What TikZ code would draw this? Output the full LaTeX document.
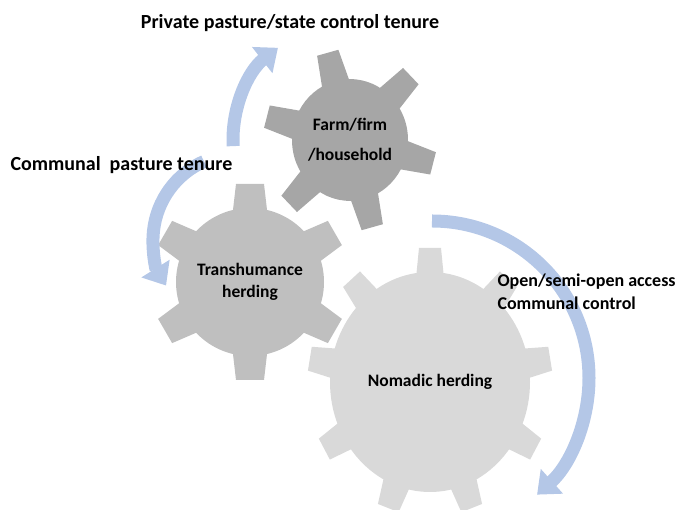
\documentclass[tikz,border=0pt]{standalone}
\usepackage{fontspec}
\setmainfont{Carlito}
\usetikzlibrary{arrows.meta,calc}
\definecolor{ashgray}{RGB}{166,166,166}
\definecolor{silvergray}{RGB}{191,191,191}
\definecolor{cloudgray}{RGB}{217,217,217}
\definecolor{bluegray}{RGB}{180,199,231}

\begin{document}
\begin{tikzpicture}[x=1pt, y=1pt,
    tenurearrow/.style={bluegray, line width=13pt, -{Triangle[width=32pt,length=20pt]}},
    geartext/.style={font=\bfseries\fontsize{17.5}{22}\selectfont, align=center},
    tenure/.style={font=\bfseries\fontsize{20}{24}\selectfont},
    access/.style={font=\bfseries\fontsize{18}{23}\selectfont, align=left}]
  \useasboundingbox (0,0) rectangle (699,510);
  \coordinate (farmhub)    at (350,370);
  \coordinate (transhub)   at (250,228);
  \coordinate (nomadhub)   at (430,128);
  \coordinate (leftpivot)  at (239,270);
  \coordinate (rightpivot) at (432,132);

  \begin{scope}[shift={(transhub)}]
    \fill[silvergray] (0,0) circle (74);
    \foreach \a in {30,90,...,330}
      \fill[silvergray, rotate=\a] (55,-19) -- (98,-14) -- (98,14) -- (55,19) -- cycle;
  \end{scope}
  \begin{scope}[shift={(farmhub)}, yscale=1.05]
    \fill[ashgray] (0,0) circle (58);
    \foreach \a in {-15,45,...,285}
      \fill[ashgray, rotate=\a] (45,-15) -- (86,-11) -- (86,11) -- (45,15) -- cycle;
  \end{scope}
  \begin{scope}[shift={(nomadhub)}, yscale=1.1]
    \fill[cloudgray] (0,0) circle (100);
    \foreach \a in {10,50,...,330}
      \fill[cloudgray, rotate=\a] (85,-15) -- (122,-11) -- (122,11) -- (85,15) -- cycle;
  \end{scope}

  \draw[tenurearrow] ($(farmhub)+(183:117)$) arc[start angle=183, end angle=128, radius=117];
  \draw[tenurearrow] ($(leftpivot)+(114:86)$) arc[start angle=114, end angle=212, radius=86];
  \draw[tenurearrow] ($(rightpivot)+(90:157)$) arc[start angle=90, end angle=-48, radius=157];

  \node[geartext] (farm)  at (farmhub)  {Farm/firm\\[8pt]/household};
  \node[geartext] (trans) at (transhub) {Transhumance\\herding};
  \node[geartext] (nomad) at (nomadhub) {Nomadic herding};
  \node[tenure] (private) at (290,487) {Private pasture/state control tenure};
  \node[tenure, anchor=west] (communal) at (7,345) {Communal~ pasture tenure};
  \node[access, anchor=west] (open) at (494,218) {Open/semi-open access\\Communal control};
\end{tikzpicture}
\end{document}
